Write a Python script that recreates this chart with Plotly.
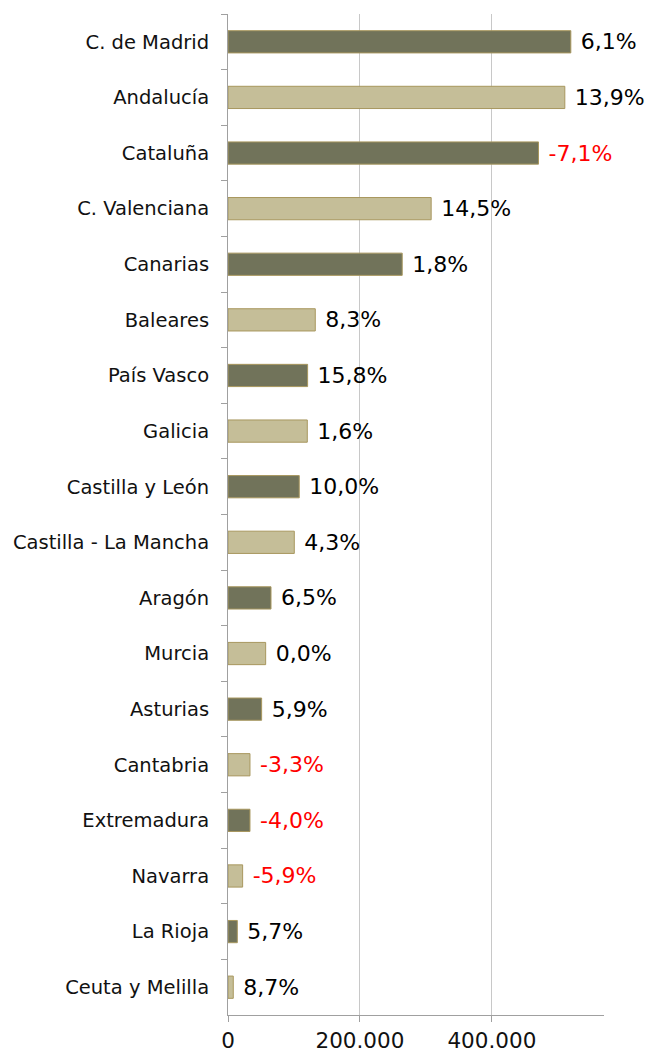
import plotly.graph_objects as go

regions = ["C. de Madrid", "Andalucía", "Cataluña", "C. Valenciana", "Canarias",
           "Baleares", "País Vasco", "Galicia", "Castilla y León",
           "Castilla - La Mancha", "Aragón", "Murcia", "Asturias", "Cantabria",
           "Extremadura", "Navarra", "La Rioja", "Ceuta y Melilla"]
values = [519700, 510600, 470700, 308000, 264100, 132300, 120700, 120200, 108000,
          100500, 65200, 57100, 51000, 33300, 33300, 22200, 14100, 8000]
changes = [6.1, 13.9, -7.1, 14.5, 1.8, 8.3, 15.8, 1.6, 10.0, 4.3, 6.5, 0.0, 5.9,
           -3.3, -4.0, -5.9, 5.7, 8.7]
tick_vals = [0, 200000, 400000]
tick_text = ["0", "200.000", "400.000"]

DARK = "#71735A"
LIGHT = "#C5BE98"
bar_colors = [DARK if i % 2 == 0 else LIGHT for i in range(len(regions))]
labels = [" " + f"{c:.1f}".replace(".", ",") + "%" for c in changes]
label_colors = ["#FF0000" if c < 0 else "#000000" for c in changes]

fig = go.Figure(go.Bar(
    y=regions, x=values, orientation="h",
    marker=dict(color=bar_colors, line=dict(color="#A8975E", width=1)),
    text=labels, textposition="outside", constraintext="none", cliponaxis=False,
    textfont=dict(color=label_colors, size=22, family="DejaVu Sans"),
    hoverinfo="skip",
))

fig.update_layout(
    width=648, height=1055,
    margin=dict(l=228, r=44, t=14, b=40),
    paper_bgcolor="white", plot_bgcolor="white",
    bargap=0.6, showlegend=False,
    font=dict(family="DejaVu Sans", size=19.5, color="#111111"),
)
fig.update_xaxes(
    range=[0, 570000], tickvals=tick_vals, ticktext=tick_text,
    showgrid=True, gridcolor="#C8C8C8", gridwidth=1,
    showline=True, linecolor="#A0A0A0", linewidth=1,
    ticks="outside", ticklen=6, tickcolor="#A0A0A0",
    tickfont=dict(size=21.5, color="#111111"), zeroline=False,
    automargin=False,
)
fig.update_yaxes(
    categoryorder="array", categoryarray=regions, autorange="reversed",
    showline=True, linecolor="#A0A0A0", linewidth=1,
    ticks="outside", ticklen=6, tickcolor="#A0A0A0", tickson="boundaries",
    ticklabelstandoff=14, automargin=False,
    tickfont=dict(size=19.5, color="#111111"), showgrid=False,
)

fig.write_html("out.html", config={"displayModeBar": False},
               post_script="document.body.style.margin='0';document.body.style.overflow='hidden';")
